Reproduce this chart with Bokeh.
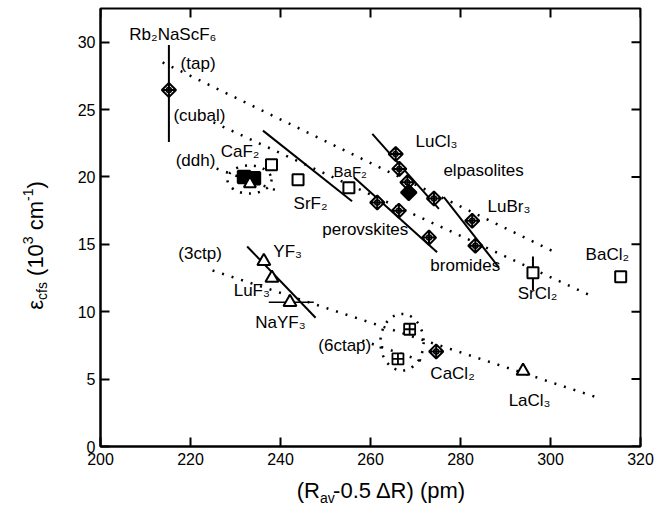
import math
from bokeh.plotting import figure
from bokeh.models import Label, Range1d, FixedTicker
from bokeh.core.properties import value
from bokeh.layouts import row, column
from bokeh.embed import file_html
from bokeh.resources import INLINE

FONT = "Liberation Sans"

# ---------------- data ----------------
x_ticks = [200, 220, 240, 260, 280, 300, 320]
y_ticks = [0, 5, 10, 15, 20, 25, 30]

# diamonds with cross (Rb2NaScF6, elpasolites, perovskites, bromides, CaCl2)
dc_x = [215.2, 265.6, 266.4, 268.2, 274.1, 261.5, 266.3, 273.0, 282.6, 283.3, 274.6]
dc_y = [26.45, 21.7, 20.6, 19.6, 18.4, 18.1, 17.5, 15.5, 16.75, 14.9, 7.05]
# filled diamond
fd_x = [268.5]
fd_y = [18.85]
# open squares (CaF2, SrF2, BaF2, SrCl2, BaCl2)
sq_x = [238.0, 243.9, 255.2, 296.1, 315.6]
sq_y = [20.9, 19.8, 19.2, 12.9, 12.6]
# squares with cross (6ctap)
sc_x = [268.7, 266.1]
sc_y = [8.7, 6.5]
# open triangles (YF3, LuF3, NaYF3, LaCl3)
tr_x = [236.3, 238.1, 242.1, 293.9]
tr_y = [13.75, 12.5, 10.7, 5.6]
# CaF2 cluster (ddh)
cl_sq_x = [231.9, 234.1]
cl_sq_y = [20.0, 19.9]
cl_tr_x = [233.2]
cl_tr_y = [19.5]

# error bars
eb_v_x = [215.2, 296.1]
eb_v_y0 = [22.6, 11.6]
eb_v_y1 = [29.8, 14.1]
eb_h_y = [10.7]
eb_h_x0 = [237.4]
eb_h_x1 = [247.4]

# solid trend lines
sl_x0 = [232.6, 236.1, 256.3, 260.4, 276.3]
sl_y0 = [14.84, 23.44, 19.98, 23.2, 18.5]
sl_x1 = [247.8, 255.9, 274.8, 275.2, 288.5]
sl_y1 = [9.55, 18.2, 14.42, 17.63, 13.3]

# dotted trend lines: tap, cubal, ddh, 3ctp, 6ctap
dl_x0 = [213.8, 225.1, 225.8, 224.9, 258.2]
dl_y0 = [28.5, 24.05, 20.62, 13.06, 7.86]
dl_x1 = [301.1, 308.9, 240.4, 311.1, 271.8]
dl_y1 = [14.4, 11.2, 18.84, 3.56, 6.31]

# dotted ellipses
el_x = [233.1, 267.0]
el_y = [19.81, 7.74]
el_w = [9.8, 9.6]
el_h = [2.08, 4.2]

# in-plot labels
lab_text = ["Rb₂NaScF₆", "(tap)", "(cubal)", "(ddh)", "CaF₂", "SrF₂", "BaF₂",
            "perovskites", "LuCl₃", "elpasolites", "LuBr₃", "bromides", "BaCl₂",
            "SrCl₂", "(3ctp)", "YF₃", "LuF₃", "NaYF₃", "(6ctap)", "CaCl₂", "LaCl₃"]
lab_x = [206.4, 217.8, 216.2, 216.7, 226.7, 242.9, 251.8,
         249.3, 270.0, 276.2, 286.0, 273.3, 307.8,
         292.7, 217.3, 238.4, 229.6, 234.4, 248.4, 273.3, 290.7]
lab_y = [30.56, 28.41, 24.55, 21.22, 21.88, 18.03, 20.4,
         16.1, 22.6, 20.47, 17.8, 13.43, 14.24,
         11.35, 14.3, 14.5, 11.57, 9.2, 7.49, 5.42, 3.41]
lab_size = [17, 17, 17, 17, 17, 17, 15,
            17, 17, 17, 17, 17, 17,
            17, 17, 17, 17, 17, 17, 17, 17]

# ---------------- geometry ----------------
W, H = 669, 514
WL = 60        # width of y-title strip
HB = 36        # height of x-title strip
MW, MH = W - WL, H - HB
X0, X1, Y0, Y1 = 200, 320, 0, 32.5
FRAME_W, FRAME_H = 540, 438
TICK = 9  # px

# ---------------- main figure ----------------
p = figure(width=MW, height=MH, x_range=Range1d(X0, X1), y_range=Range1d(Y0, Y1),
           output_backend="svg", toolbar_location=None,
           min_border_left=100 - WL, min_border_right=29, min_border_top=8,
           min_border_bottom=MH - 446)
p.xgrid.visible = False
p.ygrid.visible = False
p.outline_line_color = "black"
p.outline_line_width = 2
p.border_fill_color = "white"
p.background_fill_color = None

for ax, ticks in ((p.xaxis[0], x_ticks), (p.yaxis[0], y_ticks)):
    ax.ticker = FixedTicker(ticks=ticks)
    ax.major_tick_in = TICK
    ax.major_tick_out = 0
    ax.minor_tick_in = 0
    ax.minor_tick_out = 0
    ax.major_tick_line_width = 2
    ax.axis_line_width = 2
    ax.major_label_text_font = FONT
    ax.major_label_text_font_size = "16px"
    ax.major_label_text_color = "black"
    ax.major_label_standoff = 6
p.yaxis[0].major_label_standoff = 5

# mirrored inward ticks on the top and right frame edges
ty = TICK * (Y1 - Y0) / FRAME_H
tx = TICK * (X1 - X0) / FRAME_W
p.segment(x_ticks, [Y1] * len(x_ticks), x_ticks, [Y1 - ty] * len(x_ticks),
          line_color="black", line_width=2)
p.segment([X1] * len(y_ticks), y_ticks, [X1 - tx] * len(y_ticks), y_ticks,
          line_color="black", line_width=2)

# dotted lines
p.segment(dl_x0, dl_y0, dl_x1, dl_y1, line_color="black", line_width=2.5, line_dash="2 8")
p.ellipse(el_x, el_y, width=el_w, height=el_h, fill_color=None, line_color="black",
          line_width=2.5, line_dash="2 7")
# solid lines
p.segment(sl_x0, sl_y0, sl_x1, sl_y1, line_color="black", line_width=2)
p.segment(eb_v_x, eb_v_y0, eb_v_x, eb_v_y1, line_color="black", line_width=2)
p.segment(eb_h_x0, eb_h_y, eb_h_x1, eb_h_y, line_color="black", line_width=1.5)

# markers
p.scatter(sq_x, sq_y, marker="square", size=11, fill_color="white", line_color="black", line_width=2)
p.scatter(sc_x, sc_y, marker="square_cross", size=11, fill_color="white", line_color="black", line_width=1.8)
p.scatter(tr_x, tr_y, marker="triangle", size=13, fill_color="white", line_color="black", line_width=2)
p.scatter(dc_x, dc_y, marker="square_x", angle=math.pi / 4, size=10, fill_color="white",
          line_color="black", line_width=2)
p.scatter(dc_x, dc_y, marker="circle", size=5, fill_color=None, line_color="black", line_width=1.5)
p.scatter(fd_x, fd_y, marker="square", angle=math.pi / 4, size=11, fill_color="black",
          line_color="black", line_width=2)
p.scatter(cl_sq_x, cl_sq_y, marker="square_cross", size=12, fill_color="black", line_color="black", line_width=2.5)
p.scatter(cl_tr_x, cl_tr_y, marker="triangle", size=12, fill_color="white", line_color="black", line_width=2)

for t, x, y, s in zip(lab_text, lab_x, lab_y, lab_size):
    p.add_layout(Label(x=x, y=y, text=t, text_font=FONT, text_font_size=f"{s}px",
                       text_align="left", text_baseline="middle", text_color="black"))


def strip(width, height, x0, y0):
    f = figure(width=width, height=height, x_range=Range1d(x0, x0 + width),
               y_range=Range1d(y0, y0 + height), output_backend="svg", toolbar_location=None,
               x_axis_location=None, y_axis_location=None, min_border=0)
    f.outline_line_color = None
    f.xgrid.visible = False
    f.ygrid.visible = False
    f.border_fill_color = "white"
    return f


# ---------------- x title strip: (R_av-0.5 ΔR) (pm) ----------------
# coordinates inside: x = page px, y = 514 - page py
xf = strip(MW, HB, WL, 0)
fs, fss = 22, 14
w_av = (0.556 + 0.5) * fss
x_mid = 370
x_start = x_mid - (1.055 * fs + w_av + 6.06 * fs) / 2
xa = x_start + 1.055 * fs
yb = 490
xf.text(x=[xa], y=[H - yb], text=["(R"], text_font=value(FONT), text_font_size=f"{fs}px",
        text_align="right", text_baseline="middle", text_color="black")
xf.text(x=[xa], y=[H - (yb + 7)], text=["av"], text_font=value(FONT), text_font_size=f"{fss}px",
        text_align="left", text_baseline="middle", text_color="black")
xf.text(x=[xa + w_av], y=[H - yb], text=["-0.5 ΔR) (pm)"], text_font=value(FONT),
        text_font_size=f"{fs}px", text_align="left", text_baseline="middle", text_color="black")

# ---------------- y title strip: ε_cfs (10^3 cm^-1) ----------------
yf = strip(WL, H, 0, 0)
fs, fss = 22, 14
sp = 0.278 * fs
pieces = ["ε", "cfs", "(10", "3", "cm", "-1", ")"]
sizes = [fs, fss, fs, fss, fs, fss, fs]
offs = [0, 6, 0, -8, 0, -8, 0]
adv = [0.45 * fs, 1.278 * fss + sp, 1.445 * fs, 0.556 * fss + sp,
       1.333 * fs, 0.889 * fss, 0.333 * fs]
total = sum(adv)
ymid = 245
cur = ymid + total / 2
xc = 35
for t, s, off, w in zip(pieces, sizes, offs, adv):
    yf.text(x=[xc + off], y=[H - cur], text=[t], text_font=value(FONT), text_font_size=f"{s}px",
            text_align="left", text_baseline="middle", angle=math.pi / 2, text_color="black")
    cur -= w

layout = row(yf, column(p, xf))
open("out.html", "w").write(file_html(layout, INLINE))
